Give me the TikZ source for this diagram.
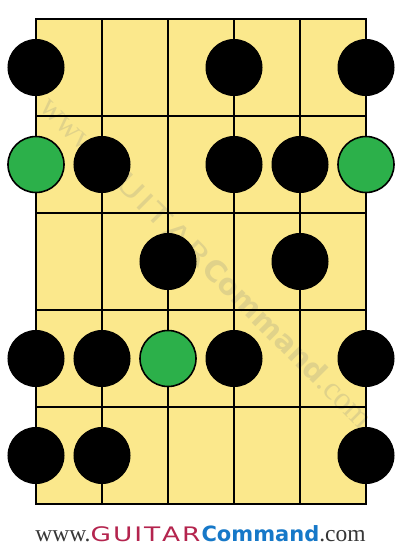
\documentclass[tikz,border=0pt]{standalone}
\usepackage{fontspec}
\newfontfamily\logoserif{Liberation Serif}
\newfontfamily\logosans{DejaVu Sans}
\definecolor{fretyellow}{RGB}{251,232,140}
\definecolor{gtred}{RGB}{180,36,78}
\definecolor{gtblue}{RGB}{22,120,200}
\definecolor{gtgray}{RGB}{55,55,55}
\definecolor{dotgreen}{RGB}{44,176,74}
\definecolor{wmark}{RGB}{224,210,138}
\newcommand{\gclogo}[3]{{\logoserif\fontsize{23.5}{24}\selectfont\color{#1}www.}{\logosans\fontsize{20}{20}\selectfont\color{#2}\scalebox{1.32}[1]{G\kern1.5pt U\kern1.5pt I\kern1.5pt T\kern1.5pt A\kern1.5pt R}}\kern1pt{\logosans\bfseries\fontsize{21}{22}\selectfont\color{#3}Command}{\logoserif\fontsize{23.5}{24}\selectfont\color{#1}.com}}
\begin{document}
\begin{tikzpicture}[x=1pt,y=-1pt,
  fret/.style={line width=2.8pt},
  blackdot/.style={circle, fill=black, draw=black, line width=1pt, minimum size=56pt, inner sep=0pt},
  rootdot/.style={blackdot, fill=dotgreen, line width=1.6pt}]
\useasboundingbox (0,0) rectangle (402,550);
\fill[white] (0,0) rectangle (402,550);
\fill[fretyellow] (36,19) rectangle (366,504);
\node[rotate=-45, scale=1.38, transform shape, inner sep=0pt] (wm) at (207,262) {\gclogo{wmark}{wmark}{wmark}};
\foreach \i in {1,...,4} \draw[fret] (36+66*\i,19) -- (36+66*\i,504);
\foreach \j in {1,...,4} \draw[fret] (36,19+97*\j) -- (366,19+97*\j);
\draw[fret] (36,19) rectangle (366,504);
% row 1
\node[blackdot] (d11) at (36,67.5) {};
\node[blackdot] (d14) at (234,67.5) {};
\node[blackdot] (d16) at (366,67.5) {};
% row 2
\node[rootdot] (d21) at (36,164.5) {};
\node[blackdot] (d22) at (102,164.5) {};
\node[blackdot] (d24) at (234,164.5) {};
\node[blackdot] (d25) at (300,164.5) {};
\node[rootdot] (d26) at (366,164.5) {};
% row 3
\node[blackdot] (d33) at (168,261.5) {};
\node[blackdot] (d35) at (300,261.5) {};
% row 4
\node[blackdot] (d41) at (36,358.5) {};
\node[blackdot] (d42) at (102,358.5) {};
\node[rootdot] (d43) at (168,358.5) {};
\node[blackdot] (d44) at (234,358.5) {};
\node[blackdot] (d46) at (366,358.5) {};
% row 5
\node[blackdot] (d51) at (36,455.5) {};
\node[blackdot] (d52) at (102,455.5) {};
\node[blackdot] (d56) at (366,455.5) {};
\node[anchor=base, inner sep=0pt] (logo) at (200.5,541) {\gclogo{gtgray}{gtred}{gtblue}};
\end{tikzpicture}
\end{document}
